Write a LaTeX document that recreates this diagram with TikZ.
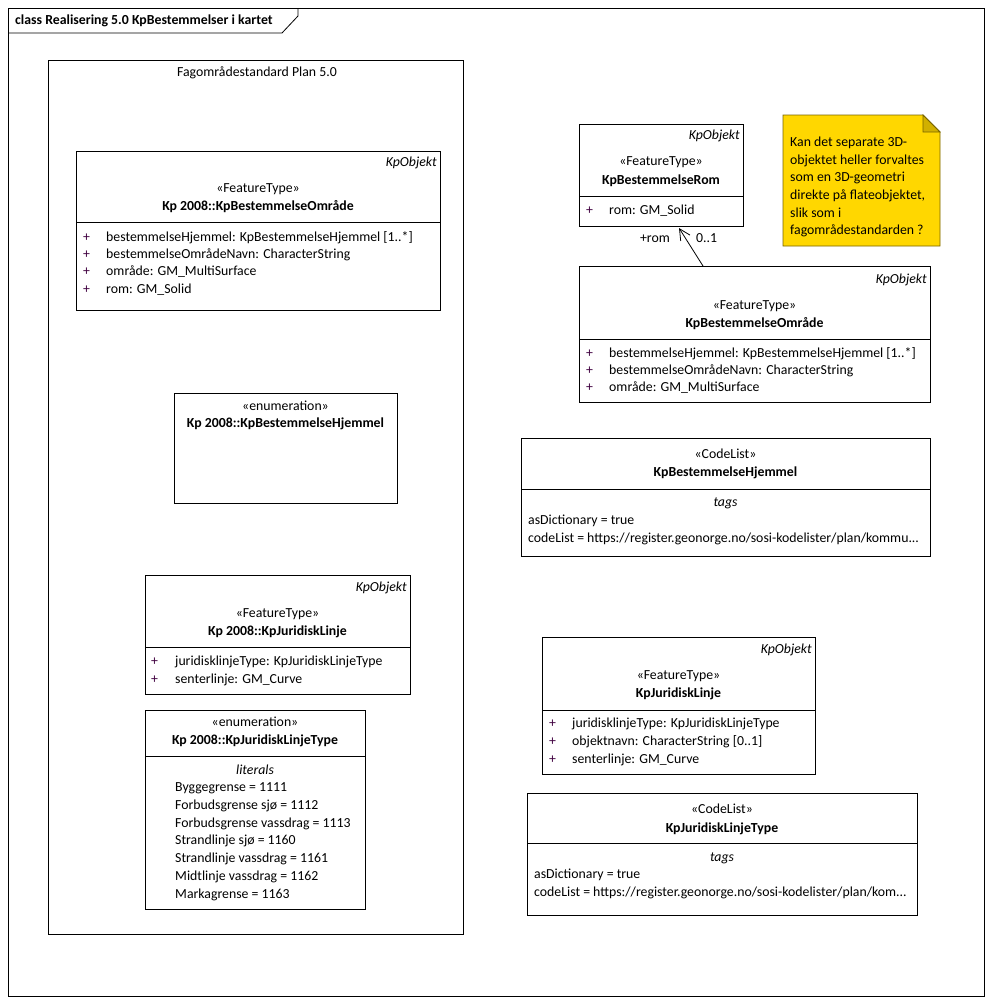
\documentclass[tikz,border=0pt]{standalone}
\usepackage{fontspec}
\setmainfont{Carlito}
\usetikzlibrary{arrows.meta,calc}
\definecolor{notefill}{RGB}{255,215,0}
\definecolor{notedraw}{RGB}{120,100,0}
\definecolor{pluscol}{RGB}{64,0,64}
\begin{document}
\begin{tikzpicture}[x=1pt,y=-1pt,font=\fontsize{13.8}{16}\selectfont,
  umlbox/.style={draw,line width=0.8pt,fill=white,anchor=north west,inner sep=0,outer sep=0},
  ctxt/.style={inner sep=0,anchor=mid,yshift=-2pt},
  ltxt/.style={inner sep=0,anchor=mid west,yshift=-2pt},
  rtxt/.style={inner sep=0,anchor=mid east,yshift=-2pt},
  plus/.style={inner sep=0,anchor=mid west,text=pluscol,yshift=-2pt},
  divider/.style={line width=0.8pt}]
\useasboundingbox (0,0) rectangle (992,1004);
\fill[white] (0,0) rectangle (992,1004);

% frame
\node[draw,line width=0.8pt,anchor=north west,inner sep=0,minimum width=976,minimum height=988] (frame) at (8,8) {};
\draw[line width=0.8pt] (frame.north west -| 298,0) -- (298,16) -- (282,33) -- (frame.west |- 0,33);
\node[ltxt] (ftitle) at (15,20) {\textbf{class Realisering 5.0 KpBestemmelser i kartet}};

% package
\node[draw,line width=0.8pt,anchor=north west,inner sep=0,minimum width=415,minimum height=874] (pkg) at (48,60) {};
\node[ctxt] (pkgname) at (257,72) {Fagområdestandard Plan 5.0};

% Kp 2008::KpBestemmelseOmråde
\node[umlbox,minimum width=364,minimum height=159] (kbo) at (76,151) {};
\draw[divider] (kbo.west |- 0,222) -- (kbo.east |- 0,222);
\node[rtxt] (kbo-k) at (437,162) {\textit{KpObjekt}};
\node[ctxt] (kbo-s) at (258,188) {«FeatureType»};
\node[ctxt] (kbo-n) at (258,206) {\textbf{Kp 2008::KpBestemmelseOmråde}};
\foreach \y/\t in {237/{bestemmelseHjemmel: KpBestemmelseHjemmel [1..*]},254/{bestemmelseOmrådeNavn: CharacterString},271/{område: GM\_MultiSurface},289/{rom: GM\_Solid}}{
  \node[plus] at (83,\y) {+};
  \node[ltxt] at (106,\y) {\t};
}

% Kp 2008::KpBestemmelseHjemmel enumeration
\node[umlbox,minimum width=223,minimum height=110] (kbh) at (174,393) {};
\node[ctxt] (kbh-s) at (285.5,406) {«enumeration»};
\node[ctxt] (kbh-n) at (285.5,423) {\textbf{Kp 2008::KpBestemmelseHjemmel}};

% Kp 2008::KpJuridiskLinje
\node[umlbox,minimum width=265,minimum height=119] (kjl) at (145,575) {};
\draw[divider] (kjl.west |- 0,647) -- (kjl.east |- 0,647);
\node[rtxt] (kjl-k) at (407,587) {\textit{KpObjekt}};
\node[ctxt] (kjl-s) at (277.5,613) {«FeatureType»};
\node[ctxt] (kjl-n) at (277.5,631) {\textbf{Kp 2008::KpJuridiskLinje}};
\foreach \y/\t in {661/{juridisklinjeType: KpJuridiskLinjeType},679/{senterlinje: GM\_Curve}}{
  \node[plus] at (151,\y) {+};
  \node[ltxt] at (175,\y) {\t};
}

% Kp 2008::KpJuridiskLinjeType enumeration
\node[umlbox,minimum width=220,minimum height=199] (kjt) at (145,710) {};
\draw[divider] (kjt.west |- 0,756) -- (kjt.east |- 0,756);
\node[ctxt] (kjt-s) at (255,722) {«enumeration»};
\node[ctxt] (kjt-n) at (255,740) {\textbf{Kp 2008::KpJuridiskLinjeType}};
\node[ctxt] (kjt-l) at (255,770) {\textit{literals}};
\foreach \y/\t in {787/{Byggegrense = 1111},805/{Forbudsgrense sjø = 1112},823/{Forbudsgrense vassdrag = 1113},840/{Strandlinje sjø = 1160},858/{Strandlinje vassdrag = 1161},876/{Midtlinje vassdrag = 1162},894/{Markagrense = 1163}}{
  \node[ltxt] at (175,\y) {\t};
}

% KpBestemmelseRom
\node[umlbox,minimum width=164,minimum height=102] (rom) at (579,124) {};
\draw[divider] (rom.west |- 0,196) -- (rom.east |- 0,196);
\node[rtxt] (rom-k) at (740,135) {\textit{KpObjekt}};
\node[ctxt] (rom-s) at (661,161) {«FeatureType»};
\node[ctxt] (rom-n) at (661,180) {\textbf{KpBestemmelseRom}};
\node[plus] (rom-p) at (586,210) {+};
\node[ltxt] (rom-a) at (609,210) {rom: GM\_Solid};

% note
\path (783,115) coordinate (n1) (923,115) coordinate (n2) (940,132) coordinate (n3) (940,246) coordinate (n4) (783,246) coordinate (n5);
\draw[line width=0.8pt,draw=notedraw,fill=notefill] (n1) -- (n2) -- (n3) -- (n4) -- (n5) -- cycle;
\draw[line width=0.8pt,draw=notedraw,fill=notefill!70!black!60!notefill] (n2) -- (923,132) -- (n3) -- cycle;
\node[inner sep=0,anchor=north west,align=left,font=\fontsize{13.8}{17.6}\selectfont] (note) at (790,137) {Kan det separate 3D-\\objektet heller forvaltes\\som en 3D-geometri\\direkte på flateobjektet,\\slik som i\\fagområdestandarden ?};

% KpBestemmelseOmråde
\node[umlbox,minimum width=351,minimum height=136] (bo) at (579,266) {};
\draw[divider] (bo.west |- 0,339) -- (bo.east |- 0,339);
\node[rtxt] (bo-k) at (927,279) {\textit{KpObjekt}};
\node[ctxt] (bo-s) at (754.5,305) {«FeatureType»};
\node[ctxt] (bo-n) at (754.5,323) {\textbf{KpBestemmelseOmråde}};
\foreach \y/\t in {353/{bestemmelseHjemmel: KpBestemmelseHjemmel [1..*]},370/{bestemmelseOmrådeNavn: CharacterString},387/{område: GM\_MultiSurface}}{
  \node[plus] at (586,\y) {+};
  \node[ltxt] at (609,\y) {\t};
}

% association
\draw[line width=0.8pt,-{Straight Barb[length=11pt,width=11pt]}] ($(bo.north west)+(124,0)$) -- ($(rom.south west)+(100,2)$);
\node[rtxt] (lrom) at (670,238) {+rom};
\node[ltxt] (lmult) at (696,238) {0..1};

% CodeList KpBestemmelseHjemmel
\node[umlbox,minimum width=409,minimum height=118] (cbh) at (521,438) {};
\draw[divider] (cbh.west |- 0,489) -- (cbh.east |- 0,489);
\node[ctxt] (cbh-s) at (725.5,454) {«CodeList»};
\node[ctxt] (cbh-n) at (725.5,472) {\textbf{KpBestemmelseHjemmel}};
\node[ctxt] (cbh-t) at (725.5,502) {\textit{tags}};
\node[ltxt] (cbh-a) at (528,520) {asDictionary = true};
\node[ltxt] (cbh-c) at (528,538) {codeList = https://register.geonorge.no/sosi-kodelister/plan/kommu...};

% KpJuridiskLinje
\node[umlbox,minimum width=273,minimum height=137] (jl) at (542,637) {};
\draw[divider] (jl.west |- 0,710) -- (jl.east |- 0,710);
\node[rtxt] (jl-k) at (812,649) {\textit{KpObjekt}};
\node[ctxt] (jl-s) at (678.5,675) {«FeatureType»};
\node[ctxt] (jl-n) at (678.5,693) {\textbf{KpJuridiskLinje}};
\foreach \y/\t in {723/{juridisklinjeType: KpJuridiskLinjeType},741/{objektnavn: CharacterString [0..1]},759/{senterlinje: GM\_Curve}}{
  \node[plus] at (549,\y) {+};
  \node[ltxt] at (572,\y) {\t};
}

% CodeList KpJuridiskLinjeType
\node[umlbox,minimum width=390,minimum height=122] (cjt) at (527,793) {};
\draw[divider] (cjt.west |- 0,843) -- (cjt.east |- 0,843);
\node[ctxt] (cjt-s) at (722,809) {«CodeList»};
\node[ctxt] (cjt-n) at (722,828) {\textbf{KpJuridiskLinjeType}};
\node[ctxt] (cjt-t) at (722,857) {\textit{tags}};
\node[ltxt] (cjt-a) at (534,874) {asDictionary = true};
\node[ltxt] (cjt-c) at (534,892) {codeList = https://register.geonorge.no/sosi-kodelister/plan/kom...};
\end{tikzpicture}
\end{document}
